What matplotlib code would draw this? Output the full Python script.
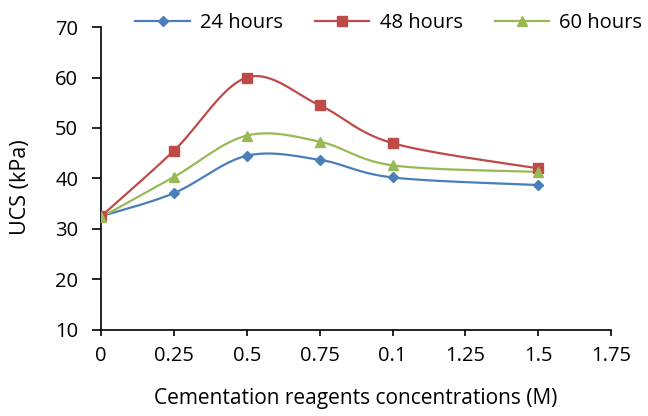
import numpy as np
import matplotlib
matplotlib.use("Agg")
import matplotlib.pyplot as plt

plt.rcParams['font.family'] = ['Open Sans', 'DejaVu Sans']

# data
conc = [0, 0.25, 0.5, 0.75, 1.0, 1.5]
ucs_24h = [32.5, 37.1, 44.5, 43.7, 40.2, 38.7]
ucs_48h = [32.5, 45.5, 60.0, 54.5, 47.0, 42.0]
ucs_60h = [32.3, 40.3, 48.5, 47.3, 42.6, 41.3]

xticks = [0, 0.25, 0.5, 0.75, 1.0, 1.25, 1.5, 1.75]
xtick_labels = ["0", "0.25", "0.5", "0.75", "0.1", "1.25", "1.5", "1.75"]


def smooth(x, y, n=30):
    # Excel-like smoothed line: cubic Bezier between points,
    # control points from neighbouring points (Catmull-Rom style)
    x = np.asarray(x, float)
    y = np.asarray(y, float)
    px = np.concatenate([[x[0]], x, [x[-1]]])
    py = np.concatenate([[y[0]], y, [y[-1]]])
    xs, ys = [], []
    t = np.linspace(0, 1, n)
    for i in range(len(x) - 1):
        p0 = np.array([px[i + 1], py[i + 1]])
        p3 = np.array([px[i + 2], py[i + 2]])
        c1 = p0 + (np.array([px[i + 2], py[i + 2]]) - np.array([px[i], py[i]])) / 6
        c2 = p3 - (np.array([px[i + 3], py[i + 3]]) - np.array([px[i + 1], py[i + 1]])) / 6
        b = ((1 - t) ** 3)[:, None] * p0 + (3 * (1 - t) ** 2 * t)[:, None] * c1 \
            + (3 * (1 - t) * t ** 2)[:, None] * c2 + (t ** 3)[:, None] * p3
        xs.extend(b[:, 0])
        ys.extend(b[:, 1])
    return xs, ys


fig = plt.figure(figsize=(6.48, 4.16), dpi=100)
ax = fig.add_axes([0.156, 0.207, 0.787, 0.728])

series = [
    ("24 hours", ucs_24h, "#4A7EBB", "D", 5.5),
    ("48 hours", ucs_48h, "#BE4B48", "s", 6.5),
    ("60 hours", ucs_60h, "#98B954", "^", 7),
]
for name, vals, color, marker, ms in series:
    sx, sy = smooth(conc, vals)
    ax.plot(sx, sy, color=color, lw=1.6, zorder=2)
    ax.plot(conc, vals, ls="none", marker=marker, ms=ms, color=color, zorder=3)
    ax.plot([], [], color=color, lw=1.6, marker=marker, ms=ms, label=name)

ax.set_xlim(0, 1.75)
ax.set_ylim(10, 70)
ax.set_xticks(xticks)
ax.set_xticklabels(xtick_labels)
ax.set_yticks(range(10, 71, 10))
ax.spines['top'].set_visible(False)
ax.spines['right'].set_visible(False)
for s in ['left', 'bottom']:
    ax.spines[s].set_linewidth(1.2)
ax.tick_params(axis='both', labelsize=14.5, width=1.2, direction='out')
ax.tick_params(axis='y', length=6.5, pad=10)
ax.tick_params(axis='x', length=4.5, pad=7)
ax.set_xlabel("Cementation reagents concentrations (M)", fontsize=15, va='center')
ax.set_ylabel("UCS (kPa)", fontsize=15.5, va='center')
ax.xaxis.set_label_coords(0.5, -0.228)
ax.yaxis.set_label_coords(-0.159, 0.472)

fig.legend(loc='center', bbox_to_anchor=(0.600, 0.945), ncol=3, frameon=False,
           fontsize=14.5, handlelength=2.7, columnspacing=1.6, handletextpad=0.5)

fig.savefig("out.png", dpi=100)
